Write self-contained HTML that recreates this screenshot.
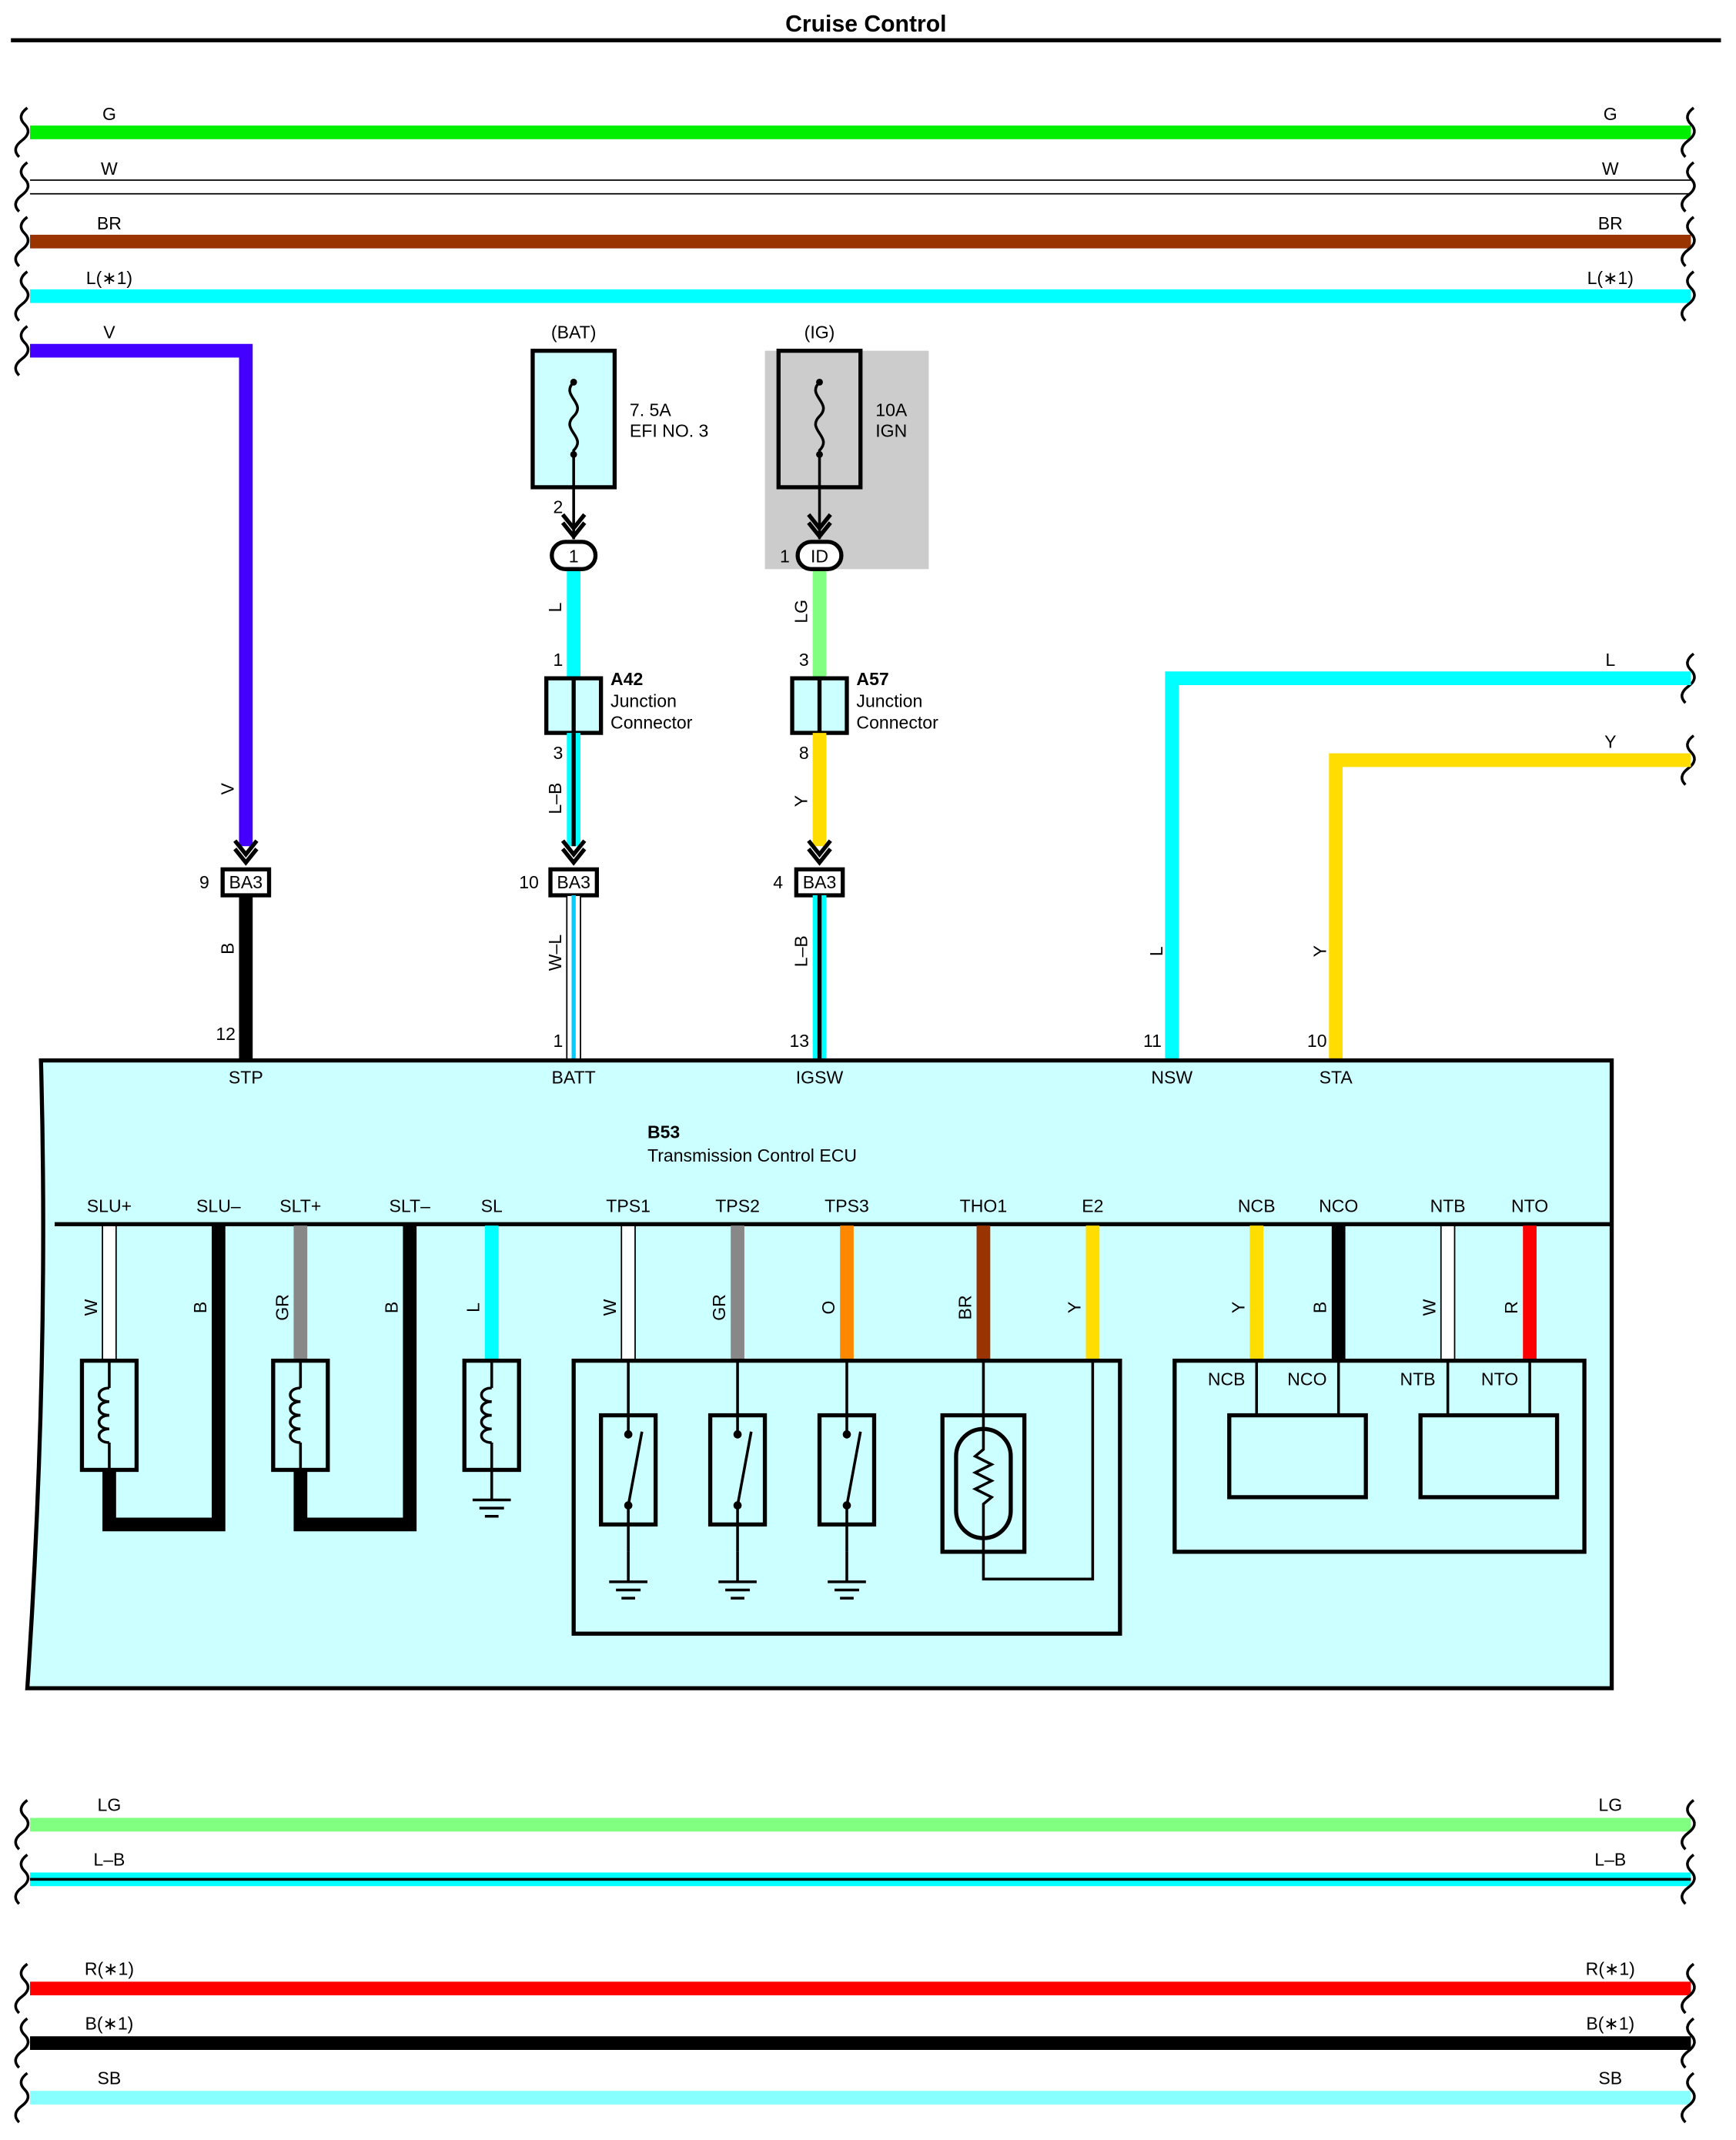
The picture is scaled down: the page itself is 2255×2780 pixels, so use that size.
<!DOCTYPE html>
<html><head><meta charset="utf-8"><style>body{margin:0;background:#fff}svg{display:block}text{font-family:"Liberation Sans",sans-serif;font-size:13px}</style></head><body>
<svg width="2255" height="2780" viewBox="0 0 1271 1568" preserveAspectRatio="none" xmlns="http://www.w3.org/2000/svg">
<defs>
<g id="brk"><path d="M0,-18 q-8,6 -2,12 q6,6 -2,12 q-8,6 -2,12" fill="none" stroke="#000" stroke-width="2"/></g>
<g id="arr"><path d="M-8,-10 L0,0 L8,-10 M-8,-4 L0,6 L8,-4" fill="none" stroke="#000" stroke-width="3"/></g>
<g id="coil"><rect x="-20" y="0" width="40" height="80" fill="none" stroke="#000" stroke-width="3"/><path d="M0,0 v20 M0,60 v20" stroke="#000" stroke-width="2"/><path d="M0,20 c-10,0 -10,10 0,10 c-10,0 -10,10 0,10 c-10,0 -10,10 0,10 c-10,0 -10,10 0,10" fill="none" stroke="#000" stroke-width="2"/></g>
<g id="gnd"><path d="M0,0 v22 M-14,22 h28 M-9,28 h18 M-5,34 h10" stroke="#000" stroke-width="2"/></g>
<g id="sw"><rect x="-20" y="0" width="40" height="80" fill="#ccffff" stroke="#000" stroke-width="3"/><path d="M0,-40 v52 M0,68 v32" stroke="#000" stroke-width="2"/><circle cx="0" cy="14" r="3" fill="#000"/><circle cx="0" cy="66" r="3" fill="#000"/><path d="M0,66 L10,12" stroke="#000" stroke-width="2"/></g>
</defs>
<text x="634" y="23" text-anchor="middle" font-weight="bold" style="font-size:17px">Cruise Control</text>
<rect x="8" y="28" width="1252" height="3" fill="#000"/>
<rect x="22" y="92" width="1216" height="10" fill="#00ee00"/>
<path d="M22,132 H1238 M22,142 H1238" stroke="#000" stroke-width="1"/>
<rect x="22" y="172" width="1216" height="10" fill="#993300"/>
<rect x="22" y="212" width="1216" height="10" fill="#00ffff"/>
<g text-anchor="middle"><text x="80" y="88">G</text><text x="80" y="128">W</text><text x="80" y="168">BR</text><text x="80" y="208">L(∗1)</text><text x="80" y="248">V</text>
<text x="1179" y="88">G</text><text x="1179" y="128">W</text><text x="1179" y="168">BR</text><text x="1179" y="208">L(∗1)</text><text x="1179" y="488">L</text><text x="1179" y="548">Y</text></g>
<use href="#brk" x="20" y="97"/><use href="#brk" x="20" y="137"/><use href="#brk" x="20" y="177"/><use href="#brk" x="20" y="217"/><use href="#brk" x="20" y="257"/>
<use href="#brk" x="1240" y="97"/><use href="#brk" x="1240" y="137"/><use href="#brk" x="1240" y="177"/><use href="#brk" x="1240" y="217"/><use href="#brk" x="1240" y="497"/><use href="#brk" x="1240" y="557"/>
<path d="M22,257 H180 V620" fill="none" stroke="#4400ff" stroke-width="10"/>
<use href="#arr" x="180" y="626"/>
<rect x="163" y="637" width="34" height="19" fill="#fff" stroke="#000" stroke-width="3"/><text x="180" y="651" text-anchor="middle">BA3</text><text x="146" y="651">9</text>
<path d="M180,656 V777" stroke="#000" stroke-width="10"/>
<text x="158" y="762">12</text>
<text transform="translate(171,578) rotate(-90)" text-anchor="middle">V</text>
<text transform="translate(171,695) rotate(-90)" text-anchor="middle">B</text>
<text x="420" y="248" text-anchor="middle">(BAT)</text>
<rect x="390" y="257" width="60" height="100" fill="#ccffff" stroke="#000" stroke-width="3"/>
<path d="M420,280 c-10,10 10,15 0,25 c-10,10 10,15 0,25 V395" fill="none" stroke="#000" stroke-width="2"/>
<circle cx="420" cy="280" r="2.5" fill="#000"/><circle cx="420" cy="333" r="2.5" fill="#000"/>
<use href="#arr" x="420" y="387"/>
<text x="461" y="305">7. 5A</text><text x="461" y="320">EFI NO. 3</text><text x="405" y="376">2</text>
<path d="M420,417 V497" stroke="#00ffff" stroke-width="10"/>
<rect x="404" y="397" width="32" height="20" rx="10" fill="#fff" stroke="#000" stroke-width="3"/><text x="420" y="412" text-anchor="middle">1</text>
<text transform="translate(411,445) rotate(-90)" text-anchor="middle">L</text>
<rect x="400" y="497" width="40" height="40" fill="#ccffff" stroke="#000" stroke-width="3"/><path d="M420,497 V537" stroke="#000" stroke-width="3"/>
<text x="405" y="488">1</text><text x="405" y="556">3</text>
<text x="447" y="502" font-weight="bold">A42</text><text x="447" y="518">Junction</text><text x="447" y="534">Connector</text>
<path d="M420,537 V620" stroke="#00ffff" stroke-width="10"/><path d="M420,537 V620" stroke="#000" stroke-width="3"/>
<use href="#arr" x="420" y="626"/>
<text transform="translate(411,585) rotate(-90)" text-anchor="middle">L–B</text>
<rect x="403" y="637" width="34" height="19" fill="#fff" stroke="#000" stroke-width="3"/><text x="420" y="651" text-anchor="middle">BA3</text><text x="380" y="651">10</text>
<rect x="415" y="656" width="10" height="121" fill="#fff" stroke="#000" stroke-width="1"/><path d="M420,656 V777" stroke="#00ccff" stroke-width="3"/>
<text transform="translate(411,698) rotate(-90)" text-anchor="middle">W–L</text><text x="405" y="767">1</text>
<rect x="560" y="257" width="120" height="160" fill="#cccccc"/>
<text x="600" y="248" text-anchor="middle">(IG)</text>
<rect x="570" y="257" width="60" height="100" fill="none" stroke="#000" stroke-width="3"/>
<path d="M600,280 c-10,10 10,15 0,25 c-10,10 10,15 0,25 V395" fill="none" stroke="#000" stroke-width="2"/>
<circle cx="600" cy="280" r="2.5" fill="#000"/><circle cx="600" cy="333" r="2.5" fill="#000"/>
<use href="#arr" x="600" y="387"/>
<text x="641" y="305">10A</text><text x="641" y="320">IGN</text>
<path d="M600,417 V497" stroke="#80ff80" stroke-width="10"/>
<rect x="584" y="397" width="32" height="20" rx="10" fill="#fff" stroke="#000" stroke-width="3"/><text x="600" y="412" text-anchor="middle">ID</text><text x="571" y="412">1</text>
<text transform="translate(591,448) rotate(-90)" text-anchor="middle">LG</text>
<rect x="580" y="497" width="40" height="40" fill="#ccffff" stroke="#000" stroke-width="3"/><path d="M600,497 V537" stroke="#000" stroke-width="3"/>
<text x="585" y="488">3</text><text x="585" y="556">8</text>
<text x="627" y="502" font-weight="bold">A57</text><text x="627" y="518">Junction</text><text x="627" y="534">Connector</text>
<path d="M600,537 V620" stroke="#ffdd00" stroke-width="10"/>
<use href="#arr" x="600" y="626"/>
<text transform="translate(591,587) rotate(-90)" text-anchor="middle">Y</text>
<rect x="583" y="637" width="34" height="19" fill="#fff" stroke="#000" stroke-width="3"/><text x="600" y="651" text-anchor="middle">BA3</text><text x="566" y="651">4</text>
<path d="M600,656 V777" stroke="#00ffff" stroke-width="10"/><path d="M600,656 V777" stroke="#000" stroke-width="3"/>
<text transform="translate(591,697) rotate(-90)" text-anchor="middle">L–B</text><text x="578" y="767">13</text>
<path d="M1238,497 H858 V777" fill="none" stroke="#00ffff" stroke-width="10"/>
<path d="M1238,557 H978 V777" fill="none" stroke="#ffdd00" stroke-width="10"/>
<text transform="translate(851,697) rotate(-90)" text-anchor="middle">L</text><text x="837" y="767">11</text>
<text transform="translate(971,697) rotate(-90)" text-anchor="middle">Y</text><text x="957" y="767">10</text>
<path d="M30,777 H1180 V1237 H20 Q36,1000 30,777 Z" fill="#ccffff" stroke="#000" stroke-width="3"/>
<path d="M40,897 H1180" stroke="#000" stroke-width="3"/>
<g text-anchor="middle"><text x="180" y="794">STP</text><text x="420" y="794">BATT</text><text x="600" y="794">IGSW</text><text x="858" y="794">NSW</text><text x="978" y="794">STA</text>
<text x="80" y="888">SLU+</text><text x="160" y="888">SLU–</text><text x="220" y="888">SLT+</text><text x="300" y="888">SLT–</text><text x="360" y="888">SL</text><text x="460" y="888">TPS1</text><text x="540" y="888">TPS2</text><text x="620" y="888">TPS3</text><text x="720" y="888">THO1</text><text x="800" y="888">E2</text><text x="920" y="888">NCB</text><text x="980" y="888">NCO</text><text x="1060" y="888">NTB</text><text x="1120" y="888">NTO</text></g>
<text x="474" y="834" font-weight="bold">B53</text><text x="474" y="851">Transmission Control ECU</text>
<rect x="75" y="898" width="10" height="99" fill="#fff" stroke="#000" stroke-width="1"/>
<path d="M80,1077 V1117 H160 V898" fill="none" stroke="#000" stroke-width="10"/>
<use href="#coil" x="80" y="997"/>
<path d="M220,898 V997" stroke="#888" stroke-width="10"/>
<path d="M220,1077 V1117 H300 V898" fill="none" stroke="#000" stroke-width="10"/>
<use href="#coil" x="220" y="997"/>
<path d="M360,898 V997" stroke="#00ffff" stroke-width="10"/>
<use href="#coil" x="360" y="997"/><use href="#gnd" x="360" y="1077"/>
<g><text transform="translate(71,958) rotate(-90)" text-anchor="middle">W</text><text transform="translate(151,958) rotate(-90)" text-anchor="middle">B</text><text transform="translate(211,958) rotate(-90)" text-anchor="middle">GR</text><text transform="translate(291,958) rotate(-90)" text-anchor="middle">B</text><text transform="translate(351,958) rotate(-90)" text-anchor="middle">L</text>
<text transform="translate(451,958) rotate(-90)" text-anchor="middle">W</text><text transform="translate(531,958) rotate(-90)" text-anchor="middle">GR</text><text transform="translate(611,958) rotate(-90)" text-anchor="middle">O</text><text transform="translate(711,958) rotate(-90)" text-anchor="middle">BR</text><text transform="translate(791,958) rotate(-90)" text-anchor="middle">Y</text>
<text transform="translate(911,958) rotate(-90)" text-anchor="middle">Y</text><text transform="translate(971,958) rotate(-90)" text-anchor="middle">B</text><text transform="translate(1051,958) rotate(-90)" text-anchor="middle">W</text><text transform="translate(1111,958) rotate(-90)" text-anchor="middle">R</text></g>
<rect x="455" y="898" width="10" height="99" fill="#fff" stroke="#000" stroke-width="1"/>
<path d="M540,898 V997" stroke="#888" stroke-width="10"/>
<path d="M620,898 V997" stroke="#ff8800" stroke-width="10"/>
<path d="M720,898 V997" stroke="#993300" stroke-width="10"/>
<path d="M800,898 V997" stroke="#ffdd00" stroke-width="10"/>
<rect x="420" y="997" width="400" height="200" fill="none" stroke="#000" stroke-width="3"/>
<use href="#sw" x="460" y="1037"/><use href="#gnd" x="460" y="1137"/>
<use href="#sw" x="540" y="1037"/><use href="#gnd" x="540" y="1137"/>
<use href="#sw" x="620" y="1037"/><use href="#gnd" x="620" y="1137"/>
<rect x="690" y="1037" width="60" height="100" fill="#ccffff" stroke="#000" stroke-width="3"/>
<rect x="700" y="1047" width="40" height="80" rx="20" fill="none" stroke="#000" stroke-width="3"/>
<path d="M720,997 V1062 l-6,5 12,6 -12,6 12,6 -12,6 12,6 -6,5 V1157 H800 V997" fill="none" stroke="#000" stroke-width="2"/>
<path d="M920,898 V997" stroke="#ffdd00" stroke-width="10"/>
<path d="M980,898 V997" stroke="#000" stroke-width="10"/>
<rect x="1055" y="898" width="10" height="99" fill="#fff" stroke="#000" stroke-width="1"/>
<path d="M1120,898 V997" stroke="#ff0000" stroke-width="10"/>
<rect x="860" y="997" width="300" height="140" fill="none" stroke="#000" stroke-width="3"/>
<rect x="900" y="1037" width="100" height="60" fill="none" stroke="#000" stroke-width="3"/>
<rect x="1040" y="1037" width="100" height="60" fill="none" stroke="#000" stroke-width="3"/>
<path d="M920,997 V1037 M980,997 V1037 M1060,997 V1037 M1120,997 V1037" stroke="#000" stroke-width="2"/>
<g text-anchor="middle"><text x="898" y="1015">NCB</text><text x="957" y="1015">NCO</text><text x="1038" y="1015">NTB</text><text x="1098" y="1015">NTO</text></g>
<rect x="22" y="1332" width="1216" height="10" fill="#80ff80"/>
<rect x="22" y="1372" width="1216" height="10" fill="#00ffff"/><rect x="22" y="1376" width="1216" height="2" fill="#000"/>
<rect x="22" y="1452" width="1216" height="10" fill="#ff0000"/>
<rect x="22" y="1492" width="1216" height="10" fill="#000"/>
<rect x="22" y="1532" width="1216" height="10" fill="#88ffff"/>
<g text-anchor="middle"><text x="80" y="1327">LG</text><text x="80" y="1367">L–B</text><text x="80" y="1447">R(∗1)</text><text x="80" y="1487">B(∗1)</text><text x="80" y="1527">SB</text>
<text x="1179" y="1327">LG</text><text x="1179" y="1367">L–B</text><text x="1179" y="1447">R(∗1)</text><text x="1179" y="1487">B(∗1)</text><text x="1179" y="1527">SB</text></g>
<use href="#brk" x="20" y="1337"/><use href="#brk" x="20" y="1377"/><use href="#brk" x="20" y="1457"/><use href="#brk" x="20" y="1497"/><use href="#brk" x="20" y="1537"/>
<use href="#brk" x="1240" y="1337"/><use href="#brk" x="1240" y="1377"/><use href="#brk" x="1240" y="1457"/><use href="#brk" x="1240" y="1497"/><use href="#brk" x="1240" y="1537"/>
</svg>
</body></html>
